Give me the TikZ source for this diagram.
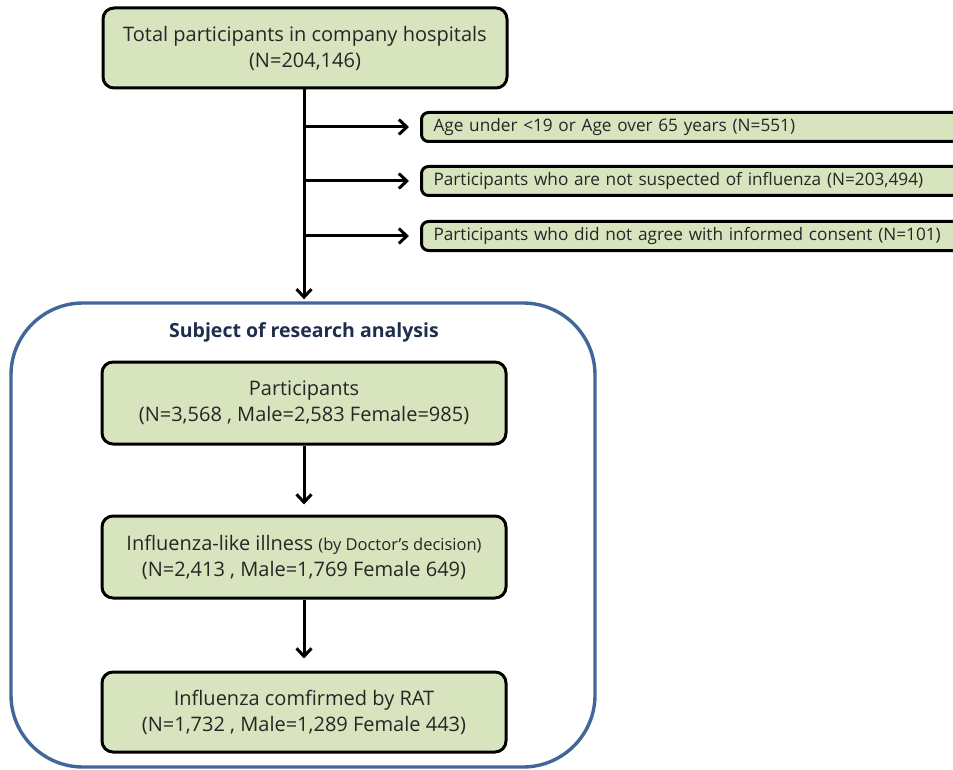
\documentclass[tikz,border=0pt]{standalone}
\usepackage{fontspec}
\setmainfont{Open Sans}
\usetikzlibrary{arrows.meta}
\definecolor{boxfill}{RGB}{215,228,189}
\definecolor{frameblue}{RGB}{65,103,152}
\definecolor{titlenavy}{RGB}{31,45,78}
\begin{document}
\begin{tikzpicture}[x=1pt,y=-1pt,
  mainbox/.style={draw=black, line width=3pt, fill=boxfill, rounded corners=11pt,
    minimum width=404pt, minimum height=80pt, align=center, inner sep=0pt,
    font=\fontsize{20}{26}\selectfont, text=black!85},
  sidebox/.style={draw=black, line width=3pt, fill=boxfill, rounded corners=7pt,
    minimum width=550pt, minimum height=29pt, anchor=west, inner sep=0pt,
    text width=526pt, align=left, font=\fontsize{17.2}{19}\selectfont, text=black!85},
  flow/.style={line width=3pt, -{Straight Barb[length=8pt,width=15pt,line width=3pt]}}]
\useasboundingbox (0,0) rectangle (953,770);
% outer frame
\node[draw=frameblue, line width=3.4pt, rounded corners=72pt, minimum width=584pt, minimum height=464pt, inner sep=0pt] (frame) at (303,535) {};
\node[font=\bfseries\fontsize{19.5}{22}\selectfont, text=titlenavy] (title) at (304,332) {Subject of research analysis};
% top box
\node[mainbox] (total) at (305,48) {Total participants in company hospitals\\(N=204,146)};
% side boxes
\node[sidebox] (ex1) at (420,127) {Age under {<}19 or Age over 65 years (N=551)};
\node[sidebox] (ex2) at (420,181) {Participants who are not suspected of influenza (N=203,494)};
\node[sidebox] (ex3) at (420,236) {Participants who did not agree with informed consent (N=101)};
% inner boxes
\node[mainbox, minimum height=82pt] (part) at (304,403) {Participants\\(N=3,568 ,\ Male=2,583 Female=985)};
\node[mainbox, minimum height=82pt] (ili) at (304,557) {Influenza-like illness {\fontsize{16.5}{20}\selectfont(by Doctor's decision)}\\(N=2,413 ,\ Male=1,769 Female 649)};
\node[mainbox, minimum height=80pt] (rat) at (304,712) {Influenza comfirmed by RAT\\(N=1,732 ,\ Male=1,289 Female 443)};
% connectors
\coordinate (b1) at (304,127);
\coordinate (b2) at (304,181);
\coordinate (b3) at (304,236);
\draw[flow, shorten >=2pt] (total.south -| b1) -- (frame.north -| b1);
\draw[flow, shorten >=11pt] (b1) -- (ex1.west);
\draw[flow, shorten >=11pt] (b2) -- (ex2.west);
\draw[flow, shorten >=11pt] (b3) -- (ex3.west);
\draw[flow, shorten >=10pt] (part.south) -- (ili.north);
\draw[flow, shorten >=12pt] (ili.south) -- (rat.north);
\end{tikzpicture}
\end{document}
